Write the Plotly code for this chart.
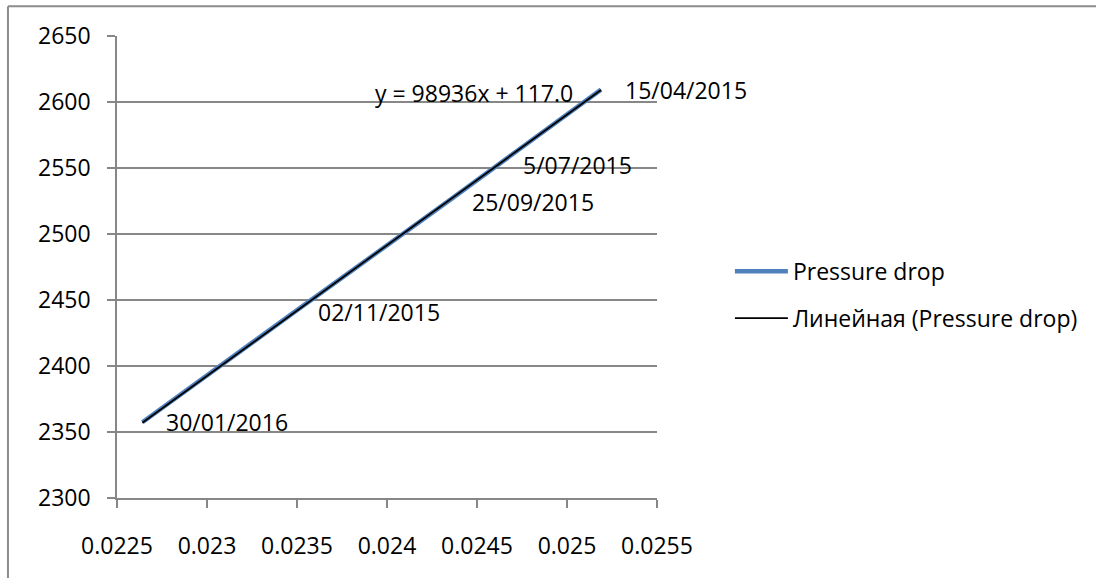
import plotly.graph_objects as go

# Data
dates = ["15/04/2015", "5/07/2015", "25/09/2015", "02/11/2015", "30/01/2016"]
friction = [0.025189, 0.024621, 0.024337, 0.023483, 0.022641]
pressure_drop = [2609.4, 2552.5, 2524.5, 2440.6, 2357.4]

trend_slope = 98936
trend_intercept = 117.0
trend_label = "y = 98936x + 117.0"

x_tick_vals = [0.0225, 0.023, 0.0235, 0.024, 0.0245, 0.025, 0.0255]
x_tick_text = ["0.0225", "0.023", "0.0235", "0.024", "0.0245", "0.025", "0.0255"]
y_tick_vals = [2300, 2350, 2400, 2450, 2500, 2550, 2600, 2650]

series_name = "Pressure drop"
trend_name = "Линейная (Pressure drop)"

FONT = "Open Sans"
FS = 23
GRID = "#878787"
FRAME = "#8c8c8c"

trend_x = [min(friction), max(friction)]
trend_y = [trend_slope * v + trend_intercept for v in trend_x]

fig = go.Figure()
fig.add_trace(go.Scatter(
    x=friction, y=pressure_drop, mode="lines", name=series_name,
    line=dict(color="#4F81BD", width=4.5), legendgroup="a",
))
fig.add_trace(go.Scatter(
    x=trend_x, y=trend_y, mode="lines", name=trend_name,
    line=dict(color="#000000", width=1.8), legendgroup="b",
))

annotations = []
for d, xv, yv in zip(dates, friction, pressure_drop):
    annotations.append(dict(
        x=xv, y=yv, xref="x", yref="y", text=d, showarrow=False,
        xanchor="left", yanchor="middle", xshift=22,
        font=dict(family=FONT, size=FS, color="#000000"),
    ))
annotations.append(dict(
    x=0.023922, y=2606.6, xref="x", yref="y", text=trend_label, showarrow=False,
    xanchor="left", yanchor="middle",
    font=dict(family=FONT, size=FS, color="#000000"),
))

fig.update_layout(
    width=1096, height=578,
    margin=dict(l=117, r=439, t=36, b=80, pad=0),
    paper_bgcolor="white", plot_bgcolor="white",
    font=dict(family=FONT, size=FS, color="#000000"),
    showlegend=True,
    legend=dict(
        x=1.135, y=0.44, xanchor="left", yanchor="middle",
        traceorder="grouped", tracegroupgap=14,
        font=dict(family=FONT, size=FS, color="#000000"),
        bgcolor="rgba(0,0,0,0)", itemwidth=53,
    ),
    annotations=annotations,
    shapes=[
        dict(type="line", xref="paper", yref="paper",
             x0=-0.2019, x1=-0.2019, y0=-0.3, y1=1.0643,
             line=dict(color=FRAME, width=2), layer="below"),
        dict(type="line", xref="paper", yref="paper",
             x0=-0.2019, x1=1.9, y0=1.0643, y1=1.0643,
             line=dict(color=FRAME, width=2), layer="below"),
    ],
    hovermode=False,
)
fig.update_xaxes(
    range=[0.0225, 0.0255], tickvals=x_tick_vals, ticktext=x_tick_text,
    showgrid=False, zeroline=False, showline=True, linecolor=GRID, linewidth=1.5,
    ticks="outside", ticklen=8, tickcolor=GRID, tickwidth=1.5,
    ticklabelstandoff=19,
    tickfont=dict(family=FONT, size=FS, color="#000000"),
)
fig.update_yaxes(
    range=[2300, 2650], tickvals=y_tick_vals,
    showgrid=True, gridcolor=GRID, gridwidth=1.5, zeroline=False,
    showline=True, linecolor=GRID, linewidth=1.5,
    ticks="outside", ticklen=8, tickcolor=GRID, tickwidth=1.5,
    ticklabelstandoff=12,
    tickfont=dict(family=FONT, size=FS, color="#000000"),
)

fig.write_html(
    "out.html", config={"displayModeBar": False},
    post_script=("document.body.style.margin='0';"
                 "document.body.style.overflow='hidden';"
                 "document.documentElement.style.overflow='hidden';"),
)
